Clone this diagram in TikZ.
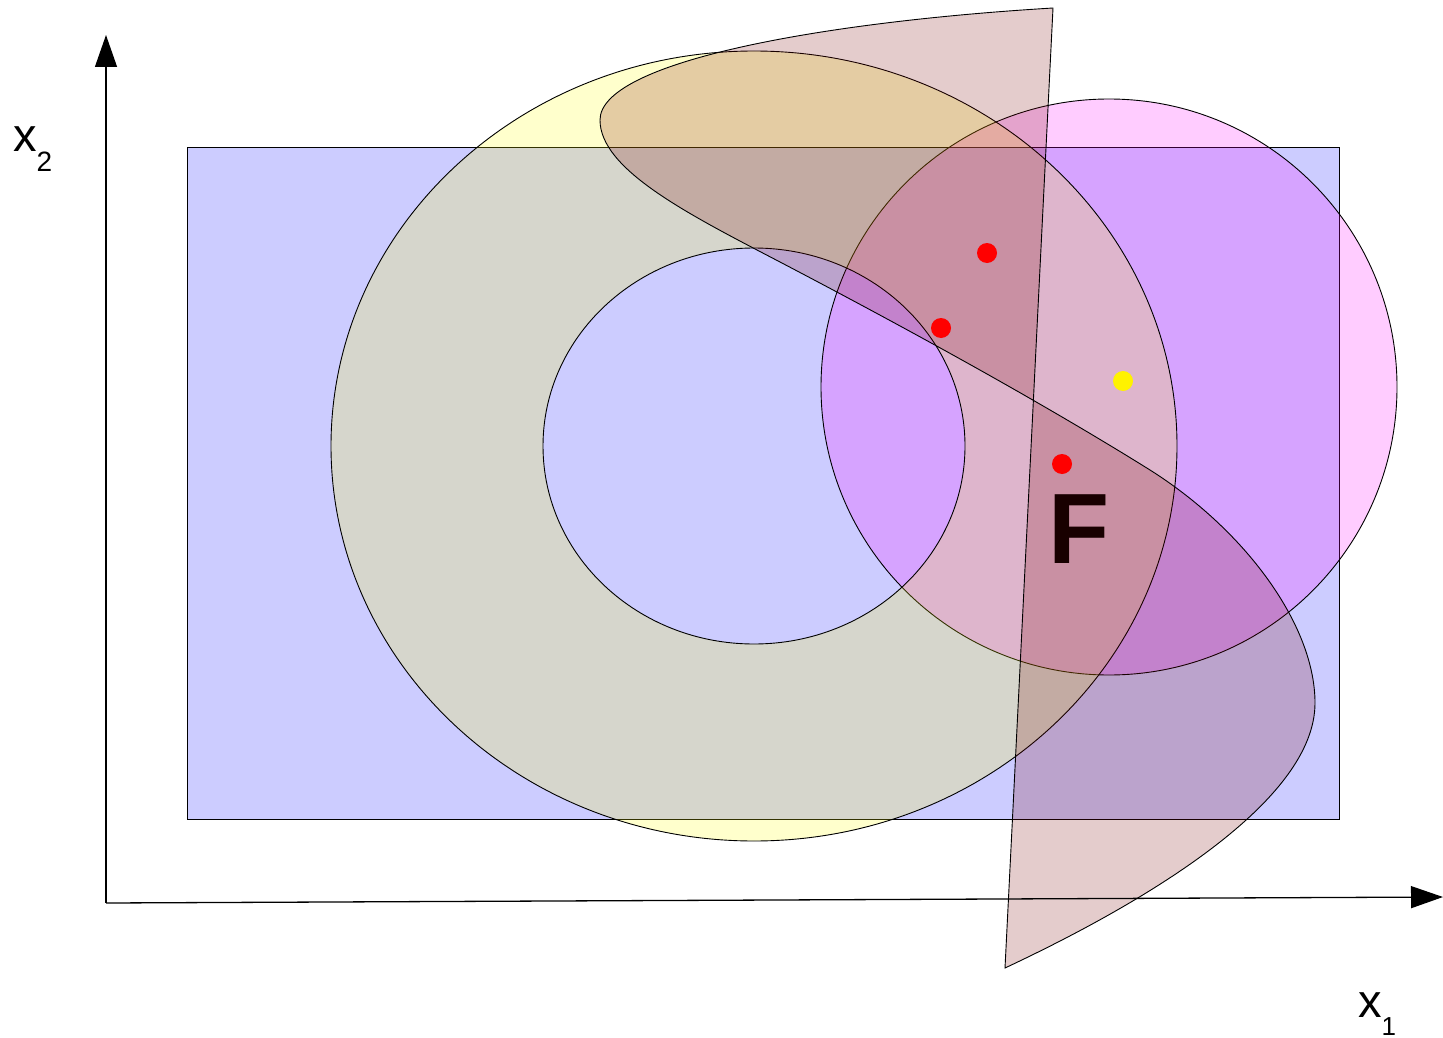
\documentclass[tikz,border=0pt]{standalone}
\usepackage{fontspec}
\setmainfont{Liberation Sans}
\usetikzlibrary{arrows.meta}
\definecolor{rectbl}{RGB}{204,204,255}
\definecolor{brownc}{RGB}{120,0,0}
\definecolor{ringy}{RGB}{255,255,0}
\definecolor{pinkc}{RGB}{255,0,255}
\begin{document}
\begin{tikzpicture}[x=1pt,y=-1pt,
  shp/.style={draw=black,line width=0.9pt},
  axisline/.style={draw=black,line width=1.3pt,-{Triangle[length=32pt,width=22pt]}},
  dotmark/.style={circle,inner sep=0pt,minimum size=20pt,draw=none},
  lbl/.style={anchor=base west,inner sep=0pt,font=\fontsize{47}{47}\selectfont}]
\useasboundingbox (0,0) rectangle (1443,1038);
% blue rectangle
\filldraw[shp,fill=rectbl] (187,147) rectangle (1339,819);
% magenta circle
\filldraw[shp,fill=pinkc,fill opacity=0.2] (1109,387) circle[radius=288pt];
% yellow ring
\filldraw[shp,fill=ringy,fill opacity=0.2,even odd rule]
  (754,446) ellipse[x radius=423pt,y radius=395pt]
  (754,446) ellipse[x radius=211pt,y radius=198pt];
% F label (under the brown shape)
\node[inner sep=0pt,font=\fontsize{100}{100}\selectfont\bfseries] (F) at (1079,529) {F};
% brown shape
\filldraw[shp,fill=brownc,fill opacity=0.2]
  (1053,8) .. controls (820,22) and (600,62) .. (600,120)
  .. controls (600,170) and (690,215) .. (780,262)
  .. controls (950,351) and (1070,420) .. (1150,470)
  .. controls (1245,530) and (1315,625) .. (1315,703)
  .. controls (1315,800) and (1150,900) .. (1005,968)
  -- cycle;
% dots
\node[dotmark,fill=red] (r1) at (987,253) {};
\node[dotmark,fill=red] (r2) at (941,328) {};
\node[dotmark,fill=red] (r3) at (1062,464) {};
\node[dotmark,fill=yellow] (y1) at (1123,381) {};
% axes
\coordinate (O) at (106,903);
\coordinate (Ytop) at (106,35);
\coordinate (Xend) at (1443,897);
\draw[axisline] (O) -- (Ytop);
\draw[axisline] (O) -- (Xend);
% axis labels
\node[lbl] (x2) at (13,152) {x\raisebox{-20pt}{\fontsize{28}{28}\selectfont 2}};
\node[lbl] (x1) at (1358,1017) {x\raisebox{-18pt}{\fontsize{26}{26}\selectfont 1}};
\end{tikzpicture}
\end{document}
